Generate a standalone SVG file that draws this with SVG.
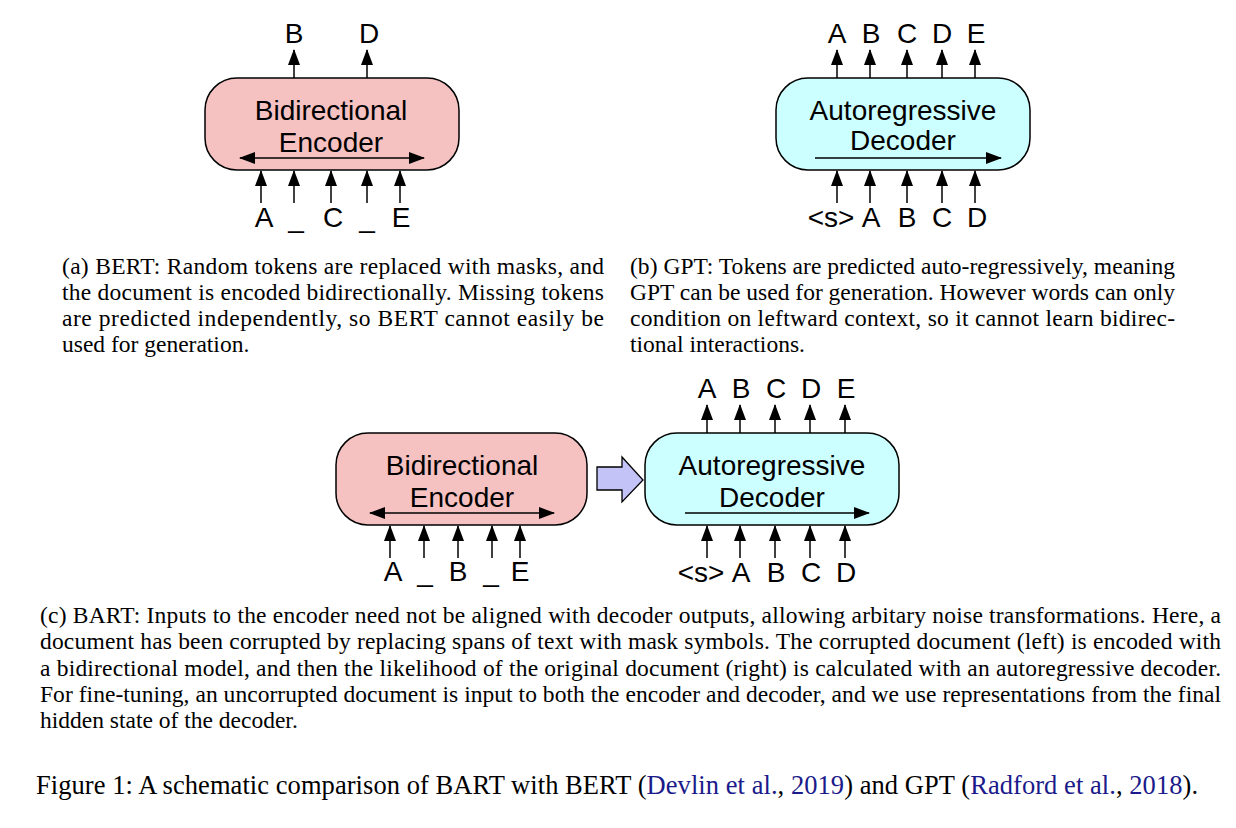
<svg xmlns="http://www.w3.org/2000/svg" width="1236" height="828" viewBox="0 0 1236 828">
<defs>
<style>
.box{stroke:#000;stroke-width:1.5}
.enc{fill:#f5c1c1}
.dec{fill:#ccffff}
.lbl{font-family:"Liberation Sans",Arial,sans-serif;font-size:28px;fill:#000;text-anchor:middle}
.cap{font-family:"Liberation Serif","Times New Roman",serif;font-size:23.5px;fill:#000}
.fig{font-family:"Liberation Serif","Times New Roman",serif;font-size:26.5px;fill:#000}
.ln{stroke:#000;stroke-width:1.5;fill:none;marker-end:url(#ah)}
.dbl{stroke:#000;stroke-width:1.5;fill:none;marker-end:url(#ah);marker-start:url(#ah)}
.link{fill:#1a1a8a}
</style>
<marker id="ah" markerUnits="userSpaceOnUse" markerWidth="16" markerHeight="12" refX="15" refY="6" orient="auto-start-reverse" viewBox="0 0 16 12">
<path d="M0,0 L16,6 L0,12 z" fill="#000"/>
</marker>
</defs>

<!-- Panel (a) -->
<g id="bert-encoder">
<rect class="box enc" x="205" y="78" width="254" height="92" rx="32" ry="32"/>
<text class="lbl" x="331" y="120">Bidirectional</text>
<text class="lbl" x="331" y="152">Encoder</text>
</g>
<g id="bert-tokens">
<text class="lbl" x="294" y="43">B</text>
<text class="lbl" x="369" y="43">D</text>
<text class="lbl" x="264" y="227">A</text>
<text class="lbl" x="296" y="227">_</text>
<text class="lbl" x="333" y="227">C</text>
<text class="lbl" x="367" y="227">_</text>
<text class="lbl" x="401" y="227">E</text>
</g>

<!-- Panel (b) -->
<g id="gpt-decoder">
<rect class="box dec" x="776" y="78" width="254" height="92" rx="32" ry="32"/>
<text class="lbl" x="903" y="120">Autoregressive</text>
<text class="lbl" x="903" y="150">Decoder</text>
</g>
<g id="gpt-tokens">
<text class="lbl" x="837" y="43">A</text>
<text class="lbl" x="871" y="43">B</text>
<text class="lbl" x="907" y="43">C</text>
<text class="lbl" x="942" y="43">D</text>
<text class="lbl" x="976" y="43">E</text>
<text class="lbl" x="831" y="227">&lt;s&gt;</text>
<text class="lbl" x="871" y="227">A</text>
<text class="lbl" x="907" y="227">B</text>
<text class="lbl" x="942" y="227">C</text>
<text class="lbl" x="977" y="227">D</text>
</g>

<!-- Panel (c) -->
<g id="bart-encoder">
<rect class="box enc" x="336" y="433" width="251" height="92" rx="32" ry="32"/>
<text class="lbl" x="462" y="475">Bidirectional</text>
<text class="lbl" x="462" y="507">Encoder</text>
</g>
<g id="bart-decoder">
<rect class="box dec" x="645" y="433" width="254" height="92" rx="32" ry="32"/>
<text class="lbl" x="772" y="475">Autoregressive</text>
<text class="lbl" x="772" y="507">Decoder</text>
</g>
<g id="bart-tokens">
<text class="lbl" x="393" y="581">A</text>
<text class="lbl" x="425" y="581">_</text>
<text class="lbl" x="458" y="581">B</text>
<text class="lbl" x="491" y="581">_</text>
<text class="lbl" x="520" y="581">E</text>
<text class="lbl" x="707" y="398">A</text>
<text class="lbl" x="741" y="398">B</text>
<text class="lbl" x="776" y="398">C</text>
<text class="lbl" x="811" y="398">D</text>
<text class="lbl" x="846" y="398">E</text>
<text class="lbl" x="701" y="582">&lt;s&gt;</text>
<text class="lbl" x="741" y="582">A</text>
<text class="lbl" x="776" y="582">B</text>
<text class="lbl" x="811" y="582">C</text>
<text class="lbl" x="846" y="582">D</text>
</g>
<g id="bart-transfer">
<path d="M597,467 L622,467 L622,457 L643,480 L622,502 L622,490 L597,490 Z" fill="#c3c3f7" stroke="#000" stroke-width="1.3"/>
</g>

<g id="connectors">
<!-- (a) -->
<line class="ln" x1="294" y1="78" x2="294" y2="50"/>
<line class="ln" x1="367" y1="78" x2="367" y2="50"/>
<line class="dbl" x1="240" y1="158" x2="424" y2="158"/>
<line class="ln" x1="261" y1="203" x2="261" y2="171"/>
<line class="ln" x1="294" y1="203" x2="294" y2="171"/>
<line class="ln" x1="331" y1="203" x2="331" y2="171"/>
<line class="ln" x1="367" y1="203" x2="367" y2="171"/>
<line class="ln" x1="400" y1="203" x2="400" y2="171"/>
<!-- (b) -->
<line class="ln" x1="837" y1="78" x2="837" y2="50"/>
<line class="ln" x1="870" y1="78" x2="870" y2="50"/>
<line class="ln" x1="907" y1="78" x2="907" y2="50"/>
<line class="ln" x1="942" y1="78" x2="942" y2="50"/>
<line class="ln" x1="975" y1="78" x2="975" y2="50"/>
<line class="ln" x1="815" y1="158" x2="1001" y2="158"/>
<line class="ln" x1="837" y1="203" x2="837" y2="171"/>
<line class="ln" x1="870" y1="203" x2="870" y2="171"/>
<line class="ln" x1="907" y1="203" x2="907" y2="171"/>
<line class="ln" x1="942" y1="203" x2="942" y2="171"/>
<line class="ln" x1="975" y1="203" x2="975" y2="171"/>
<!-- (c) encoder -->
<line class="dbl" x1="370" y1="513" x2="554" y2="513"/>
<line class="ln" x1="390" y1="558" x2="390" y2="526"/>
<line class="ln" x1="424" y1="558" x2="424" y2="526"/>
<line class="ln" x1="458" y1="558" x2="458" y2="526"/>
<line class="ln" x1="492" y1="558" x2="492" y2="526"/>
<line class="ln" x1="520" y1="558" x2="520" y2="526"/>
<!-- (c) decoder -->
<line class="ln" x1="707" y1="433" x2="707" y2="405"/>
<line class="ln" x1="740" y1="433" x2="740" y2="405"/>
<line class="ln" x1="775" y1="433" x2="775" y2="405"/>
<line class="ln" x1="810" y1="433" x2="810" y2="405"/>
<line class="ln" x1="845" y1="433" x2="845" y2="405"/>
<line class="ln" x1="685" y1="513" x2="869" y2="513"/>
<line class="ln" x1="707" y1="558" x2="707" y2="526"/>
<line class="ln" x1="740" y1="558" x2="740" y2="526"/>
<line class="ln" x1="775" y1="558" x2="775" y2="526"/>
<line class="ln" x1="810" y1="558" x2="810" y2="526"/>
<line class="ln" x1="845" y1="558" x2="845" y2="526"/>
</g>

<g id="captions">
<text class="cap" x="62" y="274" textLength="542" lengthAdjust="spacing">(a) BERT: Random tokens are replaced with masks, and</text>
<text class="cap" x="62" y="300" textLength="542" lengthAdjust="spacing">the document is encoded bidirectionally. Missing tokens</text>
<text class="cap" x="62" y="326" textLength="542" lengthAdjust="spacing">are predicted independently, so BERT cannot easily be</text>
<text class="cap" x="62" y="352">used for generation.</text>

<text class="cap" x="630" y="274" textLength="545" lengthAdjust="spacing">(b) GPT: Tokens are predicted auto-regressively, meaning</text>
<text class="cap" x="630" y="300" textLength="545" lengthAdjust="spacing">GPT can be used for generation. However words can only</text>
<text class="cap" x="630" y="326" textLength="545" lengthAdjust="spacing">condition on leftward context, so it cannot learn bidirec-</text>
<text class="cap" x="630" y="352">tional interactions.</text>

<text class="cap" x="40" y="623" textLength="1181" lengthAdjust="spacing">(c) BART: Inputs to the encoder need not be aligned with decoder outputs, allowing arbitary noise transformations.  Here, a</text>
<text class="cap" x="40" y="649" textLength="1181" lengthAdjust="spacing">document has been corrupted by replacing spans of text with mask symbols.  The corrupted document (left) is encoded with</text>
<text class="cap" x="40" y="676" textLength="1181" lengthAdjust="spacing">a bidirectional model, and then the likelihood of the original document (right) is calculated with an autoregressive decoder.</text>
<text class="cap" x="40" y="702" textLength="1181" lengthAdjust="spacing">For fine-tuning, an uncorrupted document is input to both the encoder and decoder, and we use representations from the final</text>
<text class="cap" x="40" y="728">hidden state of the decoder.</text>

<text class="fig" x="36" y="794" textLength="1162" lengthAdjust="spacing">Figure 1: A schematic comparison of BART with BERT (<tspan class="link">Devlin et al.</tspan>, <tspan class="link">2019</tspan>) and GPT (<tspan class="link">Radford et al.</tspan>, <tspan class="link">2018</tspan>).</text>
</g>
</svg>
